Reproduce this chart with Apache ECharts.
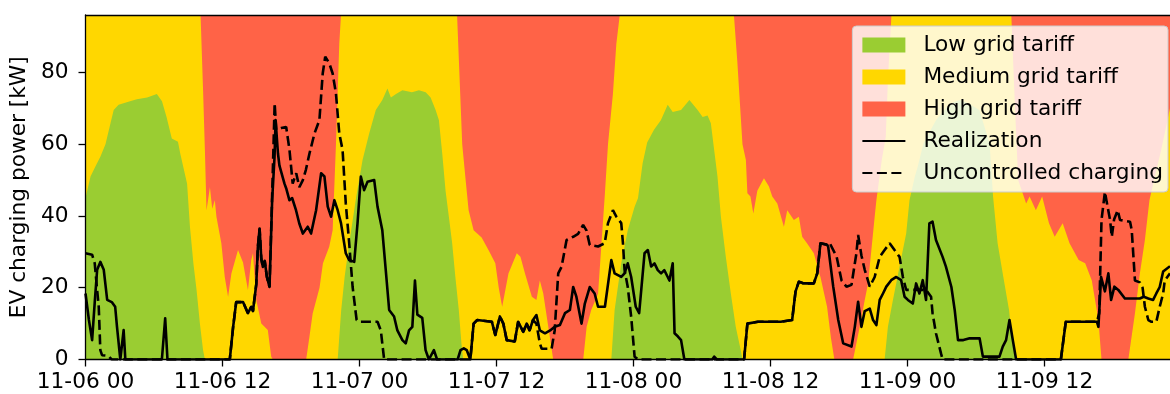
<!DOCTYPE html>
<html>
<head>
<meta charset="utf-8">
<script src="https://cdn.jsdelivr.net/npm/echarts@6/dist/echarts.min.js"></script>
<style>
  html, body { margin: 0; padding: 0; background: #fff; }
  #chart { width: 1170px; height: 394px; }
</style>
</head>
<body>
<div id="chart"></div>
<script>
// hours since 11-06 00:00
var xTicks = [0, 12, 24, 36, 48, 60, 72, 84];
var yTicks = [0, 20, 40, 60, 80];
var xMax = 95;
var yMax = 96;

// upper edge of the green (low tariff) area [hour, kW]
var greenTop = [[0,45],[0.44,51],[0.9,54],[1.3,56.5],[1.75,60],[2.2,66],[2.47,69.5],[2.9,71],[3.4,71.5],[3.9,72],[4.5,72.5],[5.4,73],[6.25,74],[6.7,72],[7.1,67.6],[7.56,61.6],[8.1,60.7],[8.3,57.4],[8.9,49],[9.15,37],[9.45,26.8],[9.73,19.4],[10.02,10],[10.3,2.6],[10.46,0],
  [22.09,0],[22.4,13.8],[22.7,23],[23.1,32.4],[23.7,45],[24.27,55.6],[24.85,63],[25.43,69.5],[26.0,72.3],[26.45,75.5],[26.75,73],[27.2,74],[27.76,75],[28.6,74.5],[29.21,75],[29.8,74.5],[30.23,73],[30.67,69.5],[30.96,66.7],[31.25,57.4],[31.54,47],[31.83,39.8],[32.12,32.4],[32.4,23],[32.7,13.8],[32.93,4.5],[33.08,0],
  [46.06,0],[46.35,13.8],[46.93,26.8],[47.5,36],[48.1,42.6],[48.4,45],[48.8,54.6],[49.2,60.5],[49.8,64],[50.4,66.7],[51.0,71],[51.44,69],[52.17,69.5],[52.9,72.3],[53.62,69.5],[54.06,67.6],[54.49,68],[54.78,65.8],[55.07,58.4],[55.36,51],[55.66,39.8],[56.09,28.6],[56.53,18.4],[56.96,9.1],[57.4,2.6],[57.55,0],
  [70.0,0],[70.29,9.1],[70.73,16.6],[71.31,25.9],[71.89,35.1],[72.18,44.4],[72.65,51],[72.9,53.7],[73.4,60.2],[74.5,66.7],[75.7,71.3],[76.6,72.3],[77.4,71.3],[78.3,69.5],[79.2,60.2],[79.5,45.4],[79.9,32.4],[80.4,23],[80.9,13.8],[81.2,4.5],[81.5,0],[95,0]];

// upper edge of the yellow (medium tariff) area, red above it
var yellowTop = [[0,96],[10.08,96],[10.3,75],[10.46,58.4],[10.6,41.6],[10.9,48],[11.1,42],[11.33,44.4],[11.47,39.8],[11.9,32.4],[12.2,23],[12.49,17.5],[12.78,24],[13.36,30.5],[13.8,27],[14.23,19.4],[14.52,27.7],[14.67,29.6],[14.96,16.6],[15.4,10],[15.97,8.2],[16.27,0.8],[16.41,0],
  [19.33,0],[19.6,6],[19.9,12.8],[20.5,20],[20.8,26.8],[21.35,31.4],[21.65,36],[21.94,60],[22.23,88],[22.38,96],
  [32.55,96],[33.0,60],[33.3,50],[33.56,41.6],[34.0,36],[34.7,34],[35.3,30.5],[35.9,26.8],[36.2,20],[36.5,14.7],[37.05,24],[37.78,29.6],[38.1,28.6],[38.5,24],[39.1,17.5],[39.5,16.6],[39.8,22],[40.1,18.4],[40.54,9.1],[40.97,0],
  [43.6,0],[43.9,9.1],[44.3,13.8],[44.9,18.4],[45.2,32.4],[45.5,46.3],[45.77,60],[46.2,74],[46.5,88],[46.8,96],
  [56.8,96],[57.1,83],[57.55,60],[57.85,55.6],[57.98,46.3],[58.25,45.4],[58.5,40.7],[58.85,47],[59.43,50.5],[59.87,48.2],[60.16,45.4],[60.6,43.5],[61.18,37],[61.47,41.6],[62.05,38.9],[62.49,39.8],[62.78,34.2],[63.2,32.4],[63.8,29.6],[64.38,23],[64.96,14.7],[65.3,6],[65.6,0],
  [67.24,0],[67.82,9.1],[68.26,16.6],[68.55,21.2],[68.84,30.5],[69.13,39.8],[69.28,44.4],[69.75,55.6],[70.1,62],[70.3,78.8],[70.6,96],
  [81.1,96],[81.4,72],[81.7,50],[82.4,43.5],[82.7,45.4],[83.25,41.6],[83.8,45.4],[84.4,38],[84.9,34.2],[85.6,38],[86.2,32.4],[87.0,27.7],[87.57,26.8],[88.15,22],[88.73,11],[89.0,0],
  [91.35,0],[91.93,12.9],[92.36,24],[92.8,33.3],[93.2,44.4],[93.6,50],[94.2,58],[95,70]];

var realization = [[0,18.4],[0.3,11],[0.58,5.4],[0.81,16],[1.02,25],[1.3,27.2],[1.6,25],[1.9,16.6],[2.3,16],[2.6,14.7],[2.76,9.1],[3.05,0],[3.2,0],[3.34,8.2],[3.49,0],[6.69,0],[6.98,11.5],[7.18,0],
  [12.64,0],[12.93,9],[13.2,16],[13.8,16],[14.23,12.9],[14.52,14.7],[14.67,13.5],[14.96,21],[15.1,31.4],[15.25,36.5],[15.4,28],[15.54,25.8],[15.7,27.5],[15.89,23],[16.12,20.2],[16.35,44.4],[16.56,56.5],[16.65,66.7],[16.86,57.4],[16.99,54],[17.43,49],[17.6,47.5],[17.86,44.4],[18.1,45],[18.44,41.6],[18.73,37.9],[19.04,35.1],[19.47,37],[19.76,35.1],[20.2,41.6],[20.64,51.9],[20.93,51],[21.22,42.6],[21.51,39.8],[21.8,44.4],[22.09,41.6],[22.38,38],[22.8,29.6],[23.1,27.7],[23.54,27.2],[23.83,38],[24.12,51],[24.41,47.2],[24.7,49.5],[25.29,50],[25.58,42.6],[26.0,36],[26.3,25],[26.6,13.8],[27.03,12],[27.32,8.1],[27.76,5.4],[28.05,4.5],[28.34,8.1],[28.63,9.1],[28.86,22],[29.07,12.5],[29.5,11.6],[29.79,2.6],[30.08,0],[30.52,2.6],[30.8,0],
  [32.6,0],[32.85,2.6],[33.14,3.1],[33.4,2.6],[33.71,0],[34.0,10],[34.3,11],[35.6,10.5],[35.9,6.8],[36.3,12],[36.6,10],[36.9,5.4],[37.6,5],[37.9,10.5],[38.35,7.7],[38.65,10],[38.9,8.1],[39.2,11],[39.5,12.4],[39.8,8.1],[40.25,7.3],[40.7,8.1],[41.1,9.1],[41.56,9.6],[42.0,12.9],[42.43,13.8],[42.72,20.2],[43.0,17.5],[43.45,10],[43.74,15.6],[44.17,20.2],[44.6,18.4],[44.9,14.7],[45.5,14.7],[46.06,27.7],[46.35,24],[46.93,23],[47.22,24],[47.5,26.8],[47.8,23],[48.2,14.7],[48.5,12.9],[48.97,29.6],[49.26,30.5],[49.55,25.9],[49.84,26.8],[50.13,24.9],[50.42,24],[50.7,24.9],[51.0,23],[51.15,22],[51.44,26.8],[51.6,7.3],[51.9,6.4],[52.17,5.4],[52.46,0],[54.9,0],[55.07,0.8],[55.3,0],
  [57.69,0],[57.98,10],[58.9,10.5],[59.75,10.5],[60.9,10.5],[61.9,11],[62.2,19],[62.49,21.7],[62.9,21.2],[63.8,21.2],[64.1,24],[64.38,32.4],[64.96,32],[65.06,31.4],[65.5,20.3],[65.94,11],[66.37,4.5],[67.1,3.6],[67.39,9.1],[67.68,16.1],[67.97,9.1],[68.26,13.5],[68.7,14.2],[68.99,11],[69.28,9.6],[69.57,16.6],[69.86,18.4],[70.15,20.3],[70.58,22.1],[71.02,23],[71.45,22.1],[71.75,17.5],[72.04,16.6],[72.47,15.6],[72.76,21.2],[73.05,18.4],[73.34,22.1],[73.63,16.6],[73.92,37.9],[74.2,38.4],[74.5,33.3],[75.08,28.6],[75.37,25.9],[75.85,20.2],[76.14,13.8],[76.43,5.4],[76.9,5.4],[77.45,5.9],[78.32,5.9],[78.61,0.8],[80.06,0.8],[80.35,3.6],[80.64,5.4],[80.94,11],[81.23,5.4],[81.52,0],
  [85.44,0],[85.87,10.5],[86.74,10.5],[88.6,10.5],[88.73,9.1],[88.96,23],[89.3,19],[89.6,24],[89.84,16.6],[90.13,20.3],[90.47,19.4],[91.05,17],[92.36,17],[92.7,17.5],[93.1,17],[93.52,16.6],[93.8,18.4],[94.1,20.2],[94.4,24.5],[95,26]];

var uncontrolled = [[0,29.6],[0.58,29.2],[0.81,26.8],[1.0,20],[1.16,14.7],[1.3,2.6],[1.45,1.2],[2.0,1],[2.3,0],
  [12.64,0],[12.93,9],[13.2,16],[13.8,16],[14.23,12.9],[14.52,14.7],[14.67,13.5],[14.96,21],[15.1,31.4],[15.25,36.5],[15.4,28],[15.54,25.8],[15.7,27.5],[15.89,23],[16.12,20.2],[16.3,40],[16.57,71.4],[16.71,64],[17.15,64.5],[17.58,64.8],[17.87,58.4],[18.15,49],[18.46,51.9],[18.73,48],[19.04,50],[19.3,52.8],[19.62,57.4],[20.06,63],[20.49,66.7],[20.78,79.7],[21.0,84.4],[21.36,82.5],[21.65,79.7],[21.94,74.1],[22.23,63],[22.52,58.4],[22.8,43.5],[23.1,32.4],[23.4,20.2],[23.75,11],[24.12,10.5],[25.58,10.5],[25.87,8.1],[26.16,0],
  [33.71,0],[34.0,10],[34.3,11],[35.6,10.5],[35.9,6.8],[36.3,12],[36.6,10],[36.9,5.4],[37.6,5],[37.9,10.5],[38.35,7.7],[38.65,10],[38.9,8.1],[39.2,11],[39.5,10],[39.8,4.5],[39.96,3],[40.83,3],[41.1,8.1],[41.41,24],[41.7,25.8],[42.14,33.3],[42.72,34.2],[43.15,35],[43.59,37.5],[43.88,36],[44.17,31.9],[44.9,31.5],[45.48,32.4],[45.77,38],[46.2,41.6],[46.5,39.8],[46.93,38],[47.08,32.4],[47.22,25],[47.5,20.2],[47.8,11.9],[48.1,0.8],[48.4,0],
  [57.69,0],[57.98,10],[58.9,10.5],[59.75,10.5],[60.9,10.5],[61.9,11],[62.2,19],[62.49,21.7],[62.9,21.2],[63.8,21.2],[64.1,24],[64.38,32.4],[64.96,32],[65.2,32.4],[65.8,28.6],[66.23,22],[66.66,20.3],[67.1,20.8],[67.53,29.6],[67.68,34.7],[67.97,29],[68.26,25],[68.7,20.3],[69.13,23],[69.57,28.6],[70.0,30.5],[70.44,32.4],[70.87,30.5],[71.31,28.6],[71.6,23],[71.89,19.4],[73.63,19.4],[74.07,17.5],[74.2,12.9],[74.5,7.3],[74.94,1.7],[75.08,0],
  [85.44,0],[85.87,10.5],[86.74,10.5],[88.6,10.5],[88.8,12.9],[89.0,38.9],[89.3,46.7],[89.45,44],[89.75,38.9],[89.9,34.2],[90.1,39],[90.42,41.6],[90.62,38.9],[91.5,38.4],[91.65,36],[91.93,22],[92.36,21.5],[92.6,20],[92.8,14.7],[93.1,11],[93.38,10.5],[93.8,10.5],[94.1,14.7],[94.4,18.4],[94.54,22],[95,24]];

var font = 'DejaVu Sans';
var fontSize = 21.7;

function pad(n) { return n < 10 ? '0' + n : '' + n; }
function timeLabel(h) {
  var day = 6 + Math.floor(h / 24);
  return '11-' + pad(day) + ' ' + pad(h % 24);
}

function areaSeries(name, color, data) {
  return {
    name: name,
    type: 'line',
    data: data,
    showSymbol: false,
    symbol: 'none',
    silent: true,
    color: color,
    lineStyle: { width: 0 },
    areaStyle: { color: color, opacity: 1 },
    z: 1
  };
}

var myChart = echarts.init(document.getElementById('chart'), null, { renderer: 'canvas' });

var option = {
  animation: false,
  textStyle: { fontFamily: font },
  grid: { left: 85, top: 15, width: xMax * 11.476, height: 344.5 },
  legend: {
    orient: 'vertical',
    right: 2,
    top: 26,
    backgroundColor: 'rgba(255,255,255,0.8)',
    borderColor: '#cccccc',
    borderWidth: 1,
    borderRadius: 4,
    padding: [8, 5, 8, 9],
    itemWidth: 43,
    itemHeight: 15,
    itemGap: 10,
    textStyle: { fontSize: fontSize, color: '#000', fontFamily: font, padding: [0, 0, 0, 13] },
    data: [
      { name: 'Low grid tariff', icon: 'rect' },
      { name: 'Medium grid tariff', icon: 'rect' },
      { name: 'High grid tariff', icon: 'rect' },
      { name: 'Realization', itemStyle: { opacity: 0 } },
      { name: 'Uncontrolled charging', itemStyle: { opacity: 0 } }
    ],
    z: 10
  },
  xAxis: [
    {
      type: 'value',
      min: 0,
      max: xMax,
      z: 5,
      axisLine: { show: true, onZero: false, lineStyle: { color: '#000', width: 1.3 } },
      axisTick: { show: true, length: 7, customValues: xTicks, lineStyle: { color: '#000', width: 1.3 } },
      axisLabel: {
        customValues: xTicks,
        margin: 12,
        fontSize: fontSize,
        color: '#000',
        formatter: function (v) { return timeLabel(v); }
      },
      splitLine: { show: false }
    },
    {
      type: 'value',
      position: 'top',
      min: 0,
      max: xMax,
      z: 5,
      axisLine: { show: true, onZero: false, lineStyle: { color: '#000', width: 1.3 } },
      axisTick: { show: false },
      axisLabel: { show: false },
      splitLine: { show: false }
    }
  ],
  yAxis: {
    type: 'value',
    min: 0,
    max: yMax,
    z: 5,
    name: 'EV charging power [kW]',
    nameLocation: 'middle',
    nameGap: 52,
    nameTextStyle: { fontSize: fontSize, color: '#000' },
    axisLine: { show: true, lineStyle: { color: '#000', width: 1.3 } },
    axisTick: { show: true, length: 7, customValues: yTicks, lineStyle: { color: '#000', width: 1.3 } },
    axisLabel: { customValues: yTicks, margin: 17, fontSize: fontSize, color: '#000' },
    splitLine: { show: false }
  },
  series: [
    areaSeries('High grid tariff', '#ff6347', [[0, yMax], [xMax, yMax]]),
    areaSeries('Medium grid tariff', '#ffd700', yellowTop),
    areaSeries('Low grid tariff', '#9acd32', greenTop),
    {
      name: 'Realization',
      type: 'line',
      data: realization,
      showSymbol: false,
      symbol: 'none',
      color: '#000',
      lineStyle: { color: '#000', width: 2.6, join: 'round' },
      z: 3
    },
    {
      name: 'Uncontrolled charging',
      type: 'line',
      data: uncontrolled,
      showSymbol: false,
      symbol: 'none',
      color: '#000',
      lineStyle: { color: '#000', width: 2.6, type: [10, 4.5] },
      z: 3
    }
  ]
};

myChart.setOption(option);
</script>
</body>
</html>
